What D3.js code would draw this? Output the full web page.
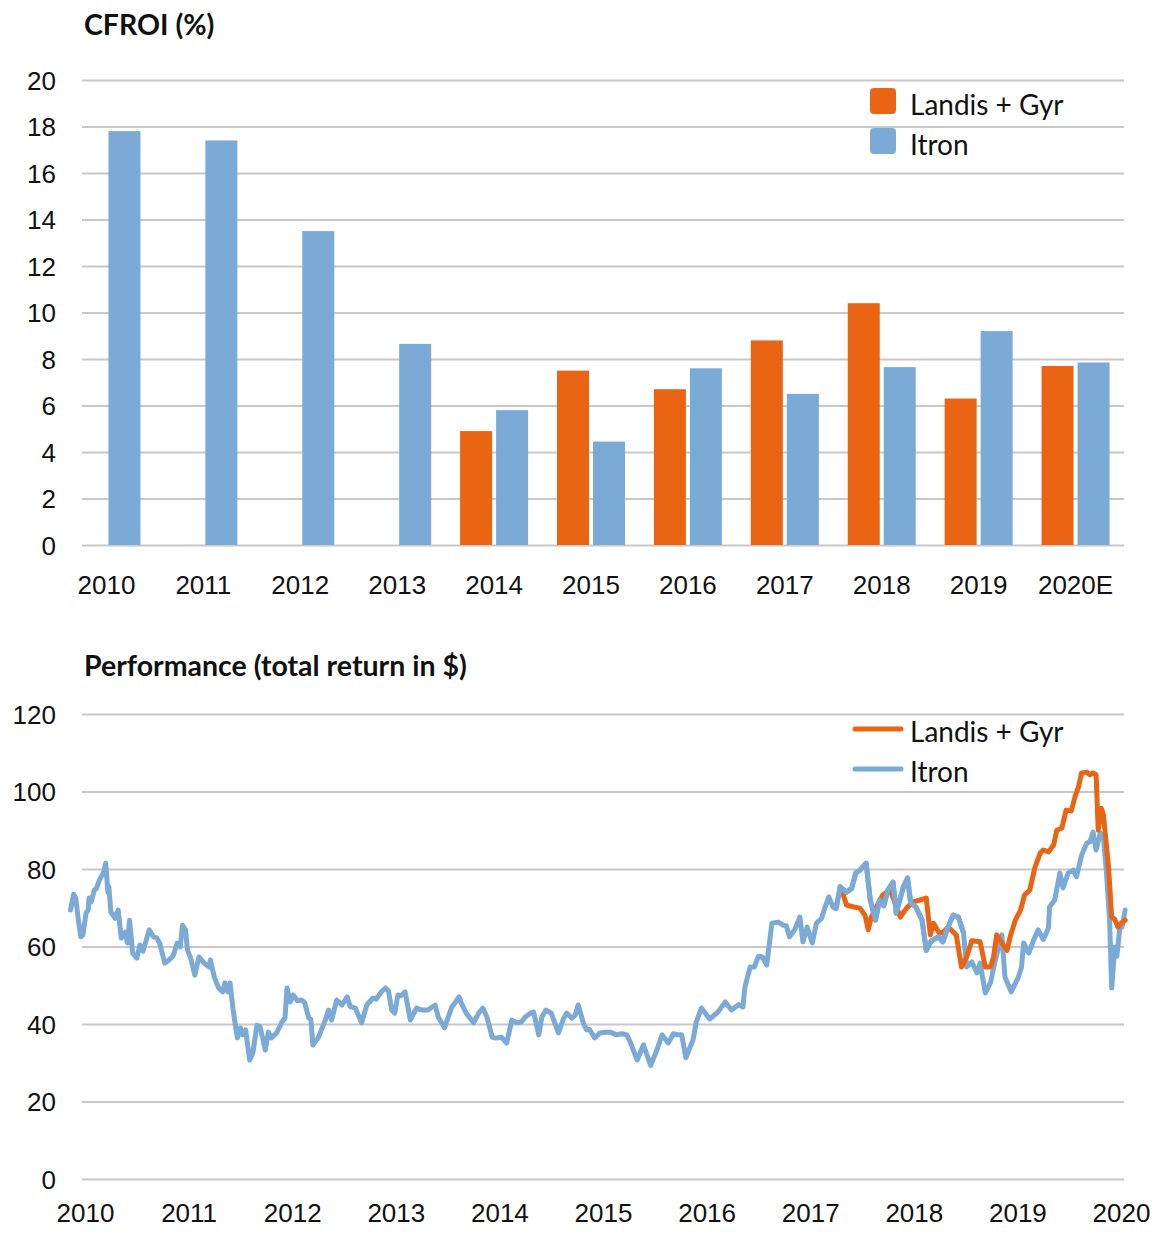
<!DOCTYPE html>
<html>
<head>
<meta charset="utf-8">
<script src="https://cdn.jsdelivr.net/npm/d3@7"></script>
<style>
  body { margin: 0; background: #fff; }
  svg { display: block; font-family: Lato, "Open Sans", sans-serif; }
  .grid line { stroke: #c8c8c8; stroke-width: 2; }
  .axis text { font-size: 26px; fill: #111; }
  .title { font-size: 28.5px; font-weight: bold; fill: #111; }
  .legend text { font-size: 28px; fill: #111; }
</style>
</head>
<body>
<svg id="chart"></svg>
<script>
// CFROI bars
const barYears = ["2010", "2011", "2012", "2013", "2014", "2015", "2016", "2017", "2018", "2019", "2020E"];
const cfroiLandis = [null, null, null, null, 4.9, 7.5, 6.7, 8.8, 10.4, 6.3, 7.7];
const cfroiItron = [17.8, 17.4, 13.5, 8.65, 5.8, 4.45, 7.6, 6.5, 7.65, 9.2, 7.85];
const cfroiTicks = [0, 2, 4, 6, 8, 10, 12, 14, 16, 18, 20];

// Performance, total return in $ ([decimal year, value])
const itronPerf = [
  [2009.86, 69.4], [2009.89, 73.5], [2009.91, 72.5], [2009.94, 66], [2009.96, 62.5], [2009.98, 63],
  [2010.01, 68.6], [2010.03, 69.4], [2010.04, 72.5], [2010.06, 71.5], [2010.09, 74.6], [2010.11, 75],
  [2010.14, 77.2], [2010.18, 79.2], [2010.20, 81.5], [2010.21, 78], [2010.22, 74], [2010.23, 75.4],
  [2010.25, 68.9], [2010.29, 67.3], [2010.32, 69.4], [2010.35, 62.2], [2010.39, 63.7], [2010.41, 60.9],
  [2010.43, 66.8], [2010.46, 58.3], [2010.50, 57], [2010.53, 60.4], [2010.56, 58.8], [2010.62, 64.3],
  [2010.66, 62.5], [2010.69, 62.3], [2010.72, 60.9], [2010.77, 55.7], [2010.80, 56.3], [2010.85, 57.5],
  [2010.89, 60.9], [2010.92, 59.9], [2010.94, 65.5], [2010.97, 64.3], [2010.99, 59], [2011.02, 57],
  [2011.06, 52.6], [2011.10, 57.3], [2011.15, 55.7], [2011.20, 54.7], [2011.21, 56.5], [2011.25, 51.9],
  [2011.29, 49.3], [2011.33, 48.3], [2011.35, 50.6], [2011.38, 48.3], [2011.40, 50.6], [2011.43, 43.6],
  [2011.47, 36.4], [2011.50, 39], [2011.52, 37.2], [2011.55, 38.5], [2011.59, 30.7], [2011.62, 32.5],
  [2011.66, 39.7], [2011.69, 39.3], [2011.74, 33.3], [2011.77, 37.9], [2011.80, 36.4], [2011.85, 37.7],
  [2011.90, 40.5], [2011.93, 41.5], [2011.95, 49.3], [2011.98, 45.7], [2012.01, 47.5], [2012.05, 46],
  [2012.09, 46.2], [2012.12, 45.5], [2012.16, 41.5], [2012.18, 41.2], [2012.20, 34.6], [2012.25, 36.4],
  [2012.32, 41], [2012.35, 43.6], [2012.38, 41], [2012.43, 46.2], [2012.48, 44.9], [2012.53, 47],
  [2012.56, 44.5], [2012.61, 44.1], [2012.67, 40.3], [2012.72, 44.9], [2012.78, 46.7], [2012.81, 46.4],
  [2012.86, 48.3], [2012.90, 49.3], [2012.93, 48.5], [2012.96, 43.6], [2012.99, 42.8], [2013.02, 47.5],
  [2013.05, 47.3], [2013.09, 48.3], [2013.14, 41], [2013.20, 44.1], [2013.25, 43.6], [2013.31, 43.6],
  [2013.38, 44.9], [2013.41, 41.8], [2013.47, 39], [2013.54, 44.4], [2013.57, 45.4], [2013.61, 47],
  [2013.63, 45.5], [2013.68, 42.8], [2013.75, 40.3], [2013.80, 42.8], [2013.84, 44.1], [2013.88, 41.8],
  [2013.93, 36.6], [2013.97, 36.4], [2014.02, 36.6], [2014.07, 35.1], [2014.12, 41], [2014.17, 40.3],
  [2014.21, 40.5], [2014.25, 41.8], [2014.30, 42.8], [2014.33, 43.1], [2014.38, 37.2], [2014.41, 41.8],
  [2014.45, 43.6], [2014.50, 42.8], [2014.57, 37.7], [2014.62, 41.5], [2014.65, 42.8], [2014.70, 41.5],
  [2014.73, 42.2], [2014.76, 44.9], [2014.81, 40.3], [2014.84, 38.5], [2014.87, 38.6], [2014.92, 36.4],
  [2014.97, 37.7], [2015.02, 37.9], [2015.07, 37.9], [2015.13, 37.2], [2015.18, 37.5], [2015.23, 37.2],
  [2015.26, 35.5], [2015.33, 30.7], [2015.39, 34.6], [2015.46, 29.3], [2015.52, 33.3], [2015.57, 37.2],
  [2015.63, 35.1], [2015.68, 37.5], [2015.72, 37.2], [2015.76, 37.2], [2015.80, 31.3], [2015.87, 36],
  [2015.90, 40.5], [2015.95, 44.1], [2016.03, 41.3], [2016.11, 43.1], [2016.18, 45.7], [2016.24, 43.6],
  [2016.31, 45], [2016.35, 44.4], [2016.37, 49.5], [2016.42, 54.7], [2016.46, 54.7], [2016.50, 57.5],
  [2016.54, 57.3], [2016.58, 55.2], [2016.63, 66], [2016.69, 66.3], [2016.74, 65.5], [2016.77, 65.3],
  [2016.80, 62.5], [2016.85, 64.3], [2016.90, 67.6], [2016.93, 61.2], [2016.97, 65], [2017.02, 60.9],
  [2017.06, 66], [2017.11, 67.3], [2017.14, 69.9], [2017.18, 72.8], [2017.22, 70.2], [2017.25, 69.8],
  [2017.29, 75.4], [2017.35, 74], [2017.40, 75], [2017.44, 79], [2017.48, 79.7], [2017.54, 81.5],
  [2017.58, 72], [2017.63, 66.8], [2017.67, 72], [2017.71, 70.5], [2017.75, 74.6], [2017.80, 76.6],
  [2017.83, 68.6], [2017.90, 75.4], [2017.94, 77.7], [2017.97, 71.2], [2018.02, 70.2], [2018.08, 66.8],
  [2018.12, 59], [2018.17, 61.5], [2018.24, 62.5], [2018.28, 61.2], [2018.33, 65], [2018.38, 68.1],
  [2018.43, 67.6], [2018.48, 63.5], [2018.51, 54.7], [2018.56, 56], [2018.61, 53.2], [2018.64, 55.7],
  [2018.69, 48], [2018.74, 50.6], [2018.78, 55.7], [2018.85, 63], [2018.88, 52.1], [2018.94, 48.3],
  [2019.01, 52.1], [2019.04, 54.7], [2019.06, 60.9], [2019.11, 58.3], [2019.15, 61.2], [2019.20, 64.3],
  [2019.25, 61.8], [2019.30, 64.8], [2019.31, 70.2], [2019.36, 72], [2019.41, 79], [2019.44, 75.1],
  [2019.49, 79], [2019.54, 79.7], [2019.57, 78], [2019.62, 83.6], [2019.67, 86.7], [2019.70, 87],
  [2019.73, 89.5], [2019.76, 84.9], [2019.80, 89.3], [2019.83, 88.3], [2019.86, 79], [2019.89, 66.8],
  [2019.91, 49.3], [2019.94, 59.9], [2019.96, 57.5], [2019.99, 65], [2020.01, 65], [2020.04, 69.4]
];

const landisPerf = [
  [2017.29, 75.4], [2017.32, 73.3], [2017.35, 70.7], [2017.42, 70.2], [2017.48, 69.9], [2017.53, 68],
  [2017.56, 64.3], [2017.59, 67.6], [2017.64, 70.2], [2017.70, 73.3], [2017.77, 74.6], [2017.82, 71.2],
  [2017.87, 67.6], [2017.93, 69.9], [2017.99, 71.5], [2018.06, 72], [2018.12, 72.5], [2018.16, 63],
  [2018.19, 66], [2018.24, 63.7], [2018.28, 63.5], [2018.33, 65], [2018.41, 63], [2018.46, 54.7],
  [2018.51, 57.3], [2018.56, 61.5], [2018.64, 61.2], [2018.69, 54.7], [2018.74, 54.7], [2018.77, 57.3],
  [2018.80, 63], [2018.85, 60.9], [2018.90, 59], [2018.93, 62.5], [2018.98, 66.8], [2019.03, 69.4],
  [2019.07, 73.3], [2019.12, 74.6], [2019.17, 80.5], [2019.22, 84.1], [2019.25, 84.9], [2019.30, 84.4],
  [2019.35, 86.2], [2019.38, 90], [2019.43, 90.6], [2019.47, 95.2], [2019.52, 95], [2019.56, 99],
  [2019.59, 101.2], [2019.62, 104.8], [2019.67, 105], [2019.70, 104.3], [2019.73, 104.8], [2019.76, 104.3],
  [2019.78, 90], [2019.81, 95.7], [2019.83, 94], [2019.88, 80.5], [2019.91, 67.6], [2019.94, 67],
  [2019.97, 65], [2020.00, 66], [2020.04, 66.8]
];
const perfTicks = [0, 20, 40, 60, 80, 100, 120];
const perfYears = [2010, 2011, 2012, 2013, 2014, 2015, 2016, 2017, 2018, 2019, 2020];

const seriesNames = ["Landis + Gyr", "Itron"];
const colors = { "Landis + Gyr": "#ea6513", "Itron": "#7baad6" };

const W = 1155, H = 1235;
const gridLeft = 82, gridRight = 1124;

const svg = d3.select("#chart").attr("width", W).attr("height", H);
svg.append("rect").attr("width", W).attr("height", H).attr("fill", "#fff");

// ---------- Top: CFROI bar chart ----------
const yBar = d3.scaleLinear().domain([0, 20]).range([545, 80]);
const xBar = d3.scaleBand().domain(barYears).range([58, 1124]);
const xInner = d3.scaleBand().domain(seriesNames).range([-34, 34]).paddingInner(0.111);

svg.append("text").attr("class", "title").attr("x", 84).attr("y", 35).text("CFROI (%)");

svg.append("g")
    .attr("class", "axis grid")
    .attr("transform", `translate(${gridLeft},0)`)
    .call(d3.axisLeft(yBar).tickValues(cfroiTicks).tickSize(-(gridRight - gridLeft)).tickPadding(26))
    .call(g => g.select(".domain").remove())
    .call(g => g.selectAll("text").attr("dy", "0.35em"));

barYears.forEach((yr, i) => {
    const cx = xBar(yr) + xBar.bandwidth() / 2;
    const vals = { "Landis + Gyr": cfroiLandis[i], "Itron": cfroiItron[i] };
    seriesNames.forEach(name => {
        const v = vals[name];
        if (v == null) return;
        svg.append("rect")
            .attr("x", cx + xInner(name))
            .attr("y", yBar(v))
            .attr("width", xInner.bandwidth())
            .attr("height", yBar(0) - yBar(v))
            .attr("fill", colors[name]);
    });
});

svg.append("g")
    .attr("class", "axis")
    .attr("transform", "translate(0,572)")
    .call(d3.axisBottom(xBar).tickSize(0).tickPadding(0))
    .call(g => g.select(".domain").remove())
    .call(g => g.selectAll("text").attr("dy", "0.85em"));

// bar legend
const barLegend = svg.append("g").attr("class", "legend").attr("transform", "translate(870,88)");
seriesNames.forEach((name, i) => {
    const item = barLegend.append("g").attr("transform", `translate(0,${i * 40})`);
    item.append("rect")
        .attr("width", 26).attr("height", 26).attr("rx", 4)
        .attr("fill", colors[name]);
    item.append("text").attr("x", 40).attr("y", 17).attr("dy", "0.35em").text(name);
});

// ---------- Bottom: performance line chart ----------
const yLine = d3.scaleLinear().domain([0, 120]).range([1179, 714]);
const xLine = d3.scaleLinear().domain([2010, 2020]).range([85, 1121]);

svg.append("text").attr("class", "title").attr("x", 84).attr("y", 676).text("Performance (total return in $)");

svg.append("g")
    .attr("class", "axis grid")
    .attr("transform", `translate(${gridLeft},0)`)
    .call(d3.axisLeft(yLine).tickValues(perfTicks).tickSize(-(gridRight - gridLeft)).tickPadding(26))
    .call(g => g.select(".domain").remove())
    .call(g => g.selectAll("text").attr("dy", "0.35em"));

svg.append("g")
    .attr("class", "axis")
    .attr("transform", "translate(0,1200)")
    .call(d3.axisBottom(xLine).tickValues(perfYears).tickFormat(d3.format("d")).tickSize(0).tickPadding(0))
    .call(g => g.select(".domain").remove())
    .call(g => g.selectAll("text").attr("dy", "0.85em"));

const line = d3.line()
    .x(d => xLine(d[0]))
    .y(d => yLine(d[1]));

function drawLine(data, name) {
    svg.append("path")
        .datum(data)
        .attr("fill", "none")
        .attr("stroke", colors[name])
        .attr("stroke-width", 5)
        .attr("stroke-linejoin", "round")
        .attr("stroke-linecap", "round")
        .attr("d", line);
}

drawLine(itronPerf, "Itron");
drawLine(landisPerf, "Landis + Gyr");
// Itron drawn on top again where the two cross in 2017-2018
drawLine(itronPerf.filter(d => d[0] >= 2017.25 && d[0] <= 2018.5), "Itron");

const lineLegend = svg.append("g").attr("class", "legend").attr("transform", "translate(855,729)");
seriesNames.forEach((name, i) => {
    const item = lineLegend.append("g").attr("transform", `translate(0,${i * 40})`);
    item.append("line")
        .attr("x1", 0).attr("x2", 46)
        .attr("stroke", colors[name]).attr("stroke-width", 5)
        .attr("stroke-linecap", "round");
    item.append("text").attr("x", 55).attr("y", 3).attr("dy", "0.35em").text(name);
});
</script>
</body>
</html>
